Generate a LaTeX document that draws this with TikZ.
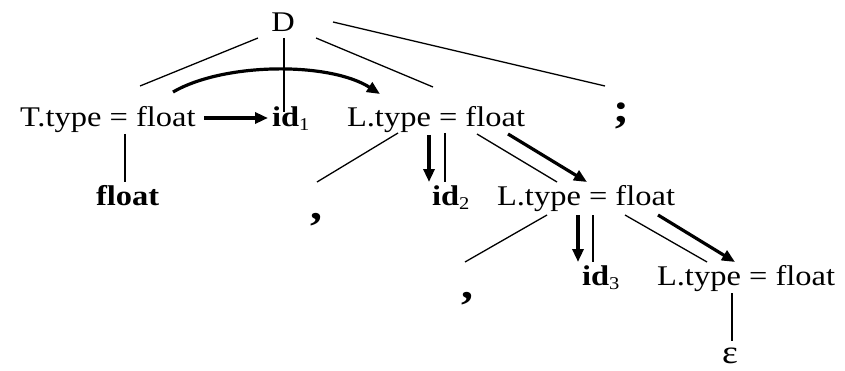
\documentclass[tikz,border=0pt]{standalone}
\usepackage{fontspec}
\setmainfont[FakeStretch=1.14]{Liberation Serif}
\usetikzlibrary{arrows.meta}
\newcommand{\mysub}[1]{\raisebox{-4pt}{\fontsize{18}{18}\selectfont #1}}
\tikzset{
  txt/.style={inner sep=0pt, outer sep=0pt, font=\fontsize{28.5}{30}\selectfont},
  punct/.style={inner sep=0pt, outer sep=0pt, font=\fontsize{42}{44}\selectfont\bfseries},
  tree/.style={line width=1.3pt},
  dep/.style={line width=3.2pt, -{Triangle[length=13pt,width=11pt]}}
}
\begin{document}
\begin{tikzpicture}[x=1pt,y=1pt]
\useasboundingbox (0,0) rectangle (845,370);
% nodes
\node[txt, anchor=base] (D) at (283,338) {D};
\node[txt, anchor=base west] (T) at (20,243) {T.type = float};
\node[txt, anchor=base west] (id1) at (272,243) {\textbf{id}\mysub{1}};
\node[txt, anchor=base west] (L1) at (347,243) {L.type = float};
\node[punct] (semi) at (621,254.5) {;};
\node[txt, anchor=base west] (fl) at (96,165) {\textbf{float}};
\node[punct] (c1) at (316,150.5) {,};
\node[txt, anchor=base west] (id2) at (432,165) {\textbf{id}\mysub{2}};
\node[txt, anchor=base west] (L2) at (497,165) {L.type = float};
\node[punct] (c2) at (467,71.5) {,};
\node[txt, anchor=base west] (id3) at (582,85) {\textbf{id}\mysub{3}};
\node[txt, anchor=base west] (L3) at (657,85) {L.type = float};
\node[txt, font=\fontsize{33}{35}\selectfont] (eps) at (730,14) {ε};
% tree edges
\draw[tree] ([shift={(-25,-6)}]D.base) -- ([shift={(120,41)}]T.base west);
\draw[tree] ([shift={(1,-6)}]D.base) -- ([shift={(12,15)}]id1.base west);
\draw[tree] ([shift={(33,-6)}]D.base) -- ([shift={(86,40)}]L1.base west);
\draw[tree] ([shift={(50,10)}]D.base) -- ([shift={(-16,29.5)}]semi.center);
\draw[tree] ([shift={(105,-7)}]T.base west) -- ([shift={(29,23)}]fl.base west);
\draw[tree] ([shift={(51,-6)}]L1.base west) -- ([shift={(1,37.5)}]c1.center);
\draw[tree] ([shift={(98,-6)}]L1.base west) -- ([shift={(13,23)}]id2.base west);
\draw[tree] ([shift={(130,-7)}]L1.base west) -- ([shift={(60,23)}]L2.base west);
\draw[tree] ([shift={(50,-10)}]L2.base west) -- ([shift={(-2,36.5)}]c2.center);
\draw[tree] ([shift={(96,-10)}]L2.base west) -- ([shift={(11,23)}]id3.base west);
\draw[tree] ([shift={(128,-10)}]L2.base west) -- ([shift={(50,23)}]L3.base west);
\draw[tree] ([shift={(75,-8)}]L3.base west) -- ([shift={(2,15)}]eps.center);
% dependency arrows
\draw[dep] ([shift={(184,9)}]T.base west) -- ([shift={(-4,9)}]id1.base west);
\draw[dep] ([shift={(153,35)}]T.base west) .. controls ([shift={(-58,-30)}]D.base) and ([shift={(47,-30)}]D.base) .. ([shift={(33,33)}]L1.base west);
\draw[dep] ([shift={(82,-8)}]L1.base west) -- ([shift={(-3,23)}]id2.base west);
\draw[dep] ([shift={(161,-7)}]L1.base west) -- ([shift={(90,23)}]L2.base west);
\draw[dep] ([shift={(81,-10)}]L2.base west) -- ([shift={(-4,23)}]id3.base west);
\draw[dep] ([shift={(161,-10)}]L2.base west) -- ([shift={(78,23)}]L3.base west);
\end{tikzpicture}
\end{document}
